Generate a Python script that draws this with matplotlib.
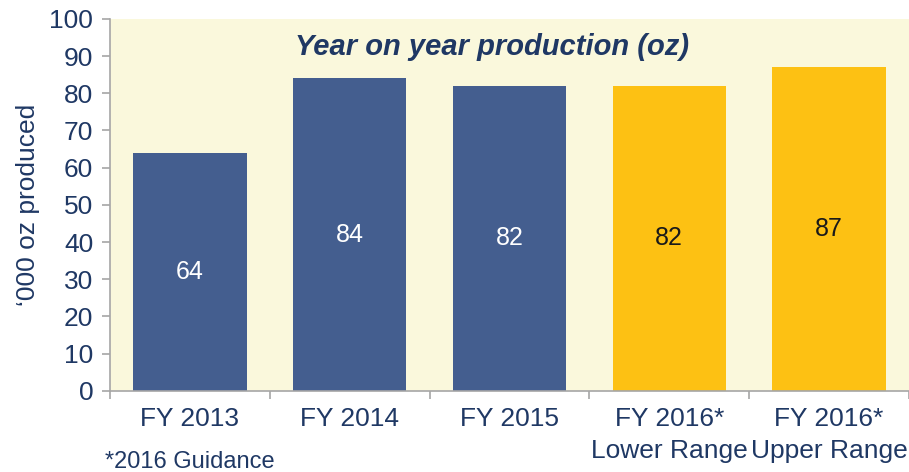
import matplotlib
matplotlib.use("Agg")
import matplotlib.pyplot as plt
import numpy as np

categories = ["FY 2013", "FY 2014", "FY 2015", "FY 2016*\nLower Range", "FY 2016*\nUpper Range"]
values = [64, 84, 82, 82, 87]
bar_colors = ["#445E8F", "#445E8F", "#445E8F", "#FDC113", "#FDC113"]
label_colors = ["white", "white", "white", "#1a1a1a", "#1a1a1a"]
yticks = list(range(0, 101, 10))

plt.rcParams['font.family'] = ['Liberation Sans', 'DejaVu Sans']
text_color = "#1F3864"
spine_color = "#A6A6A6"

fig = plt.figure(figsize=(9.09, 4.72), dpi=100)
ax = fig.add_axes([0.121, 0.172, 0.879, 0.788])
ax.set_facecolor("#FAF8DC")

x = np.arange(len(categories))
ax.bar(x, values, width=0.71, color=bar_colors, zorder=2)
for xi, v, c in zip(x, values, label_colors):
    ax.text(xi, v / 2, str(v), ha="center", va="center", color=c, fontsize=18)

ax.set_xlim(-0.5, len(categories) - 0.5)
ax.set_ylim(0, 100)
ax.set_yticks(yticks)
ax.set_yticklabels([str(t) for t in yticks], fontsize=19, color=text_color)

ax.set_xticks(x)
ax.set_xticklabels(categories, fontsize=19, color=text_color, linespacing=1.4)
ax.tick_params(axis="x", which="major", length=0, pad=12)
ax.set_xticks(np.arange(-0.5, len(categories), 1.0), minor=True)
ax.tick_params(axis="x", which="minor", length=6, color=spine_color, width=1.2)
ax.tick_params(axis="y", length=6, color=spine_color, width=1.2, pad=6)

for s in ["top", "right"]:
    ax.spines[s].set_visible(False)
for s in ["left", "bottom"]:
    ax.spines[s].set_color(spine_color)
    ax.spines[s].set_linewidth(1.2)

ax.set_ylabel("\u2018000 oz produced", fontsize=19, color=text_color, labelpad=7)

ax.text(0.478, 0.925, "Year on year production (oz)", transform=ax.transAxes,
        ha="center", va="center", fontsize=21, fontweight="bold", fontstyle="italic",
        color=text_color)

fig.text(105 / 909, 1 - 462 / 472, "*2016 Guidance", ha="left", va="center",
         fontsize=17, color=text_color)

fig.savefig("out.png", dpi=100)
